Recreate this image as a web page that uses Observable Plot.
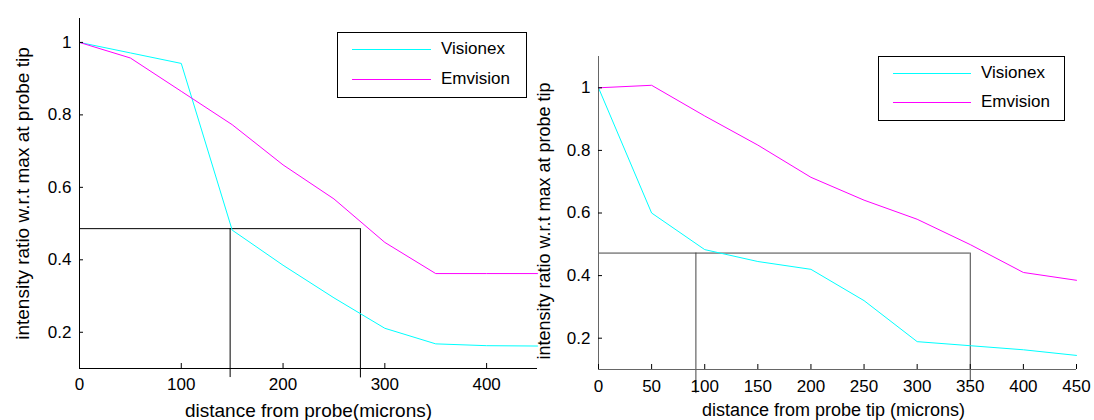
<!DOCTYPE html>
<html><head><meta charset="utf-8">
<script src="https://cdn.jsdelivr.net/npm/d3@7"></script>
<script src="https://cdn.jsdelivr.net/npm/@observablehq/plot@0.6"></script>
<style>
body{margin:0;background:#fff;}
#wrap{position:relative;width:1094px;height:420px;overflow:hidden;background:#fff;font-family:"Liberation Sans",Arial,sans-serif;}
#wrap > svg{position:absolute;left:0;top:0;}
.legend{position:absolute;border:1px solid #000;background:#fff;box-sizing:border-box;}
.legend .ln{position:absolute;height:0;border-top-width:1px;border-top-style:solid;}
.legend .tx{position:absolute;font-size:17px;line-height:20px;color:#000;white-space:nowrap;}
</style></head><body><div id="wrap"></div>
<script>
// ---- data ----
const distances = [0, 50, 100, 150, 200, 250, 300, 350, 400, 450];
const leftVisionex = [1, 0.971, 0.942, 0.482, 0.385, 0.295, 0.211, 0.168, 0.163, 0.162];
const leftEmvision = [1, 0.957, 0.865, 0.773, 0.662, 0.568, 0.448, 0.362, 0.362, 0.362];
const rightVisionex = [1, 0.6, 0.483, 0.445, 0.42, 0.32, 0.189, 0.176, 0.163, 0.145];
const rightEmvision = [1, 1.008, 0.91, 0.817, 0.714, 0.641, 0.58, 0.499, 0.41, 0.385];
const seriesNames = ["Visionex", "Emvision"];
const seriesColors = ["#00ffff", "#ff00ff"];
const yTickValues = [0.2, 0.4, 0.6, 0.8, 1];
const leftXTicks = [0, 100, 200, 300, 400];
const rightXTicks = [0, 50, 100, 150, 200, 250, 300, 350, 400, 450];
// guide lines (value level, x end, vertical drops)
const leftGuideLevel = 0.486, leftGuideEnd = 276;
const leftGuideDrops = [{x: 148, y1: 0.075}, {x: 276, y1: 0.074}];
const rightGuideLevel = 0.472, rightGuideEnd = 350;
const rightGuideDrops = [{x: 91.7, y1: 0.023}, {x: 350, y1: 0.061}];
const leftXLabel = "distance from probe(microns)";
const rightXLabel = "distance from probe tip (microns)";
const yLabel = "intensity ratio w.r.t max at probe tip";

function rows(xs, vis, emv) {
  const out = [];
  xs.forEach((x, i) => out.push({x, y: vis[i], s: seriesNames[0]}));
  xs.forEach((x, i) => out.push({x, y: emv[i], s: seriesNames[1]}));
  return out;
}

function panel(cfg) {
  const data = rows(distances, cfg.vis, cfg.emv);
  return Plot.plot({
    width: 1094, height: 420,
    marginLeft: cfg.ml, marginRight: cfg.mr, marginTop: cfg.mt, marginBottom: cfg.mb,
    style: {background: "transparent", overflow: "visible", fontFamily: "Liberation Sans, Arial, sans-serif", fontSize: "17px", color: "#000"},
    x: {domain: [0, 450]},
    y: {domain: cfg.yDomain},
    color: {domain: seriesNames, range: seriesColors},
    marks: [
      Plot.ruleY([cfg.guideLevel], {x1: 0, x2: cfg.guideEnd, stroke: cfg.guideColor}),
      Plot.ruleX(cfg.guideDrops, {x: "x", y1: "y1", y2: cfg.guideLevel, stroke: cfg.guideColor}),
      Plot.line(data, {x: "x", y: "y", z: "s", stroke: "s", strokeWidth: 1}),
      Plot.ruleX([0], {stroke: cfg.axisColor}),
      Plot.ruleY([cfg.yDomain[0]], {stroke: cfg.axisColor}),
      Plot.axisX(cfg.xTicks, {tickSize: -5, tickPadding: cfg.xPad, tickFormat: d => String(d), label: null, fontSize: 17}),
      Plot.axisY(yTickValues, {tickSize: -4, tickPadding: 12, tickFormat: d => String(d), label: null, fontSize: 17}),
      Plot.text([cfg.xLabel], {frameAnchor: "bottom", textAnchor: "middle", dy: cfg.xLabelDy, dx: cfg.xLabelDx, lineAnchor: "middle", fontSize: cfg.labelSize}),
      Plot.text([yLabel], {frameAnchor: "left", textAnchor: "middle", rotate: -90, dx: cfg.yLabelDx, dy: cfg.yLabelDy, lineAnchor: "middle", fontSize: cfg.labelSize})
    ]
  });
}

const wrap = document.getElementById("wrap");
wrap.appendChild(panel({
  vis: leftVisionex, emv: leftEmvision,
  ml: 79, mr: 557, mt: 18, mb: 52, yDomain: [0.1, 1.066],
  guideLevel: leftGuideLevel, guideEnd: leftGuideEnd, guideDrops: leftGuideDrops,
  guideColor: "#000", axisColor: "#000", xTicks: leftXTicks, xPad: 14, labelSize: 19,
  xLabel: leftXLabel, xLabelDy: 42, xLabelDx: 0, yLabelDx: -57, yLabelDy: 0
}));
wrap.appendChild(panel({
  vis: rightVisionex, emv: rightEmvision,
  ml: 598, mr: 18, mt: 56, mb: 51, yDomain: [0.1, 1.1],
  guideLevel: rightGuideLevel, guideEnd: rightGuideEnd, guideDrops: rightGuideDrops,
  guideColor: "#444", axisColor: "#666", xTicks: rightXTicks, xPad: 15, labelSize: 18,
  xLabel: rightXLabel, xLabelDy: 41, xLabelDx: -4, yLabelDx: -54, yLabelDy: 8
}));

function legend(left, top, w, h, lineX, lineW, ys, textX) {
  const box = document.createElement("div");
  box.className = "legend";
  Object.assign(box.style, {left: left + "px", top: top + "px", width: w + "px", height: h + "px"});
  seriesNames.forEach((name, i) => {
    const ln = document.createElement("div");
    ln.className = "ln";
    Object.assign(ln.style, {left: lineX + "px", top: ys[i] + "px", width: lineW + "px", borderTopColor: seriesColors[i]});
    box.appendChild(ln);
    const tx = document.createElement("div");
    tx.className = "tx";
    tx.textContent = name;
    Object.assign(tx.style, {left: textX + "px", top: (ys[i] - 10) + "px"});
    box.appendChild(tx);
  });
  wrap.appendChild(box);
}
legend(337, 32, 190, 66, 14, 79, [16, 46], 103);
legend(878, 56, 187, 65, 14, 78, [16, 45], 102);
</script></body></html>
